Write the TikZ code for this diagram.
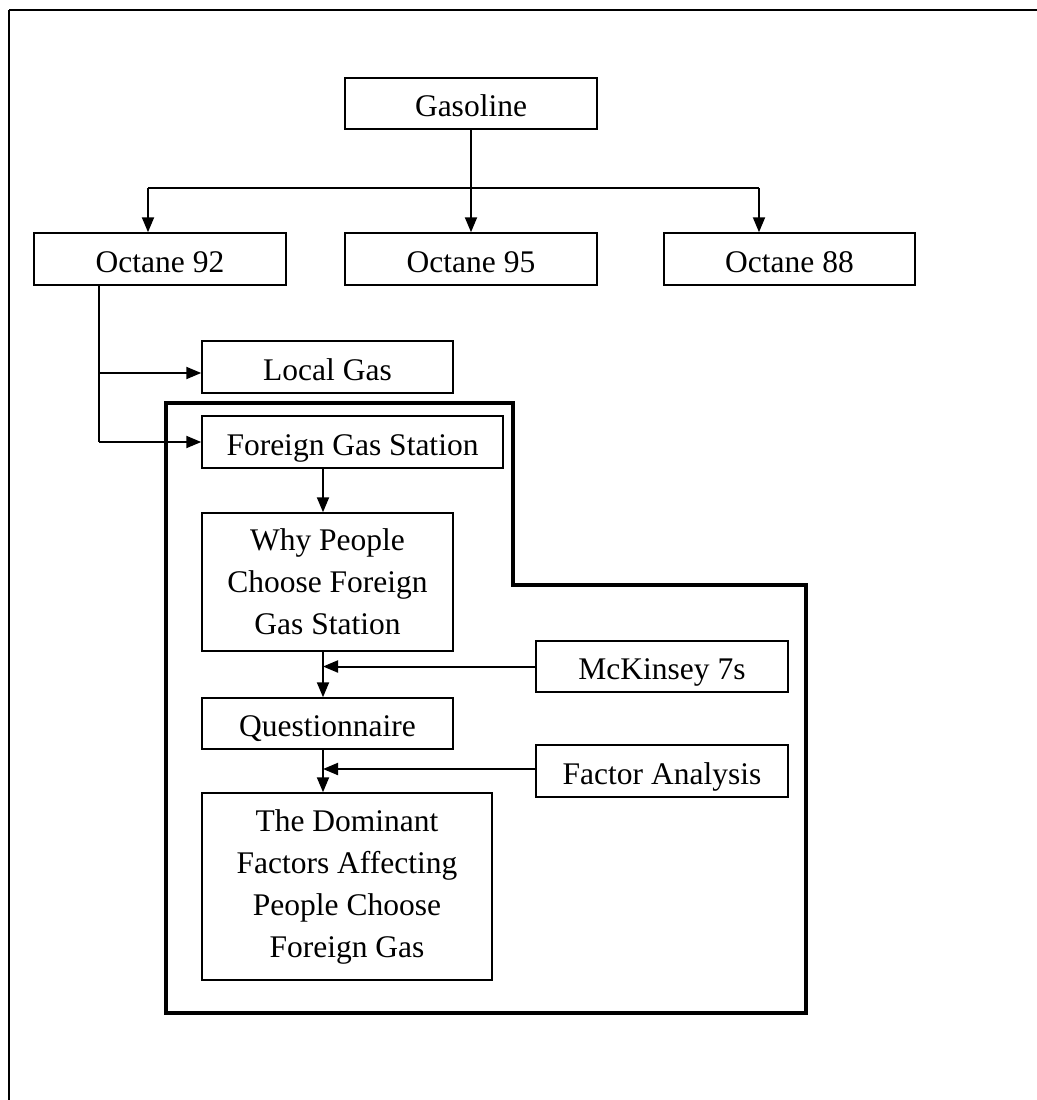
\documentclass[tikz,border=0pt]{standalone}
\usepackage{fontspec}
\setmainfont{Liberation Serif}
\usetikzlibrary{arrows.meta,calc}
\begin{document}
\begin{tikzpicture}[x=1pt,y=-1pt,
  boxbase/.style={draw,line width=1.5pt,rectangle,inner sep=0pt,align=center,
    font=\fontsize{31.5}{42}\selectfont},
  box/.style={boxbase,text height=26pt,text depth=0pt},
  mbox/.style={boxbase},
  arr/.style={line width=2pt,-{Triangle[length=15pt,width=12pt]}},
  ln/.style={line width=2pt}]
\useasboundingbox (0,0) rectangle (1036,1100);
% outer frame (top and left only)
\draw[line width=2.5pt] (9,10) -- (1040,10);
\draw[line width=1.5pt] (9,10) -- (9,1104);
% thick region frame
\draw[line width=4pt] (166,403) -- (513,403) -- (513,585) -- (806,585) -- (806,1013) -- (166,1013) -- cycle;
% nodes
\node[box,minimum width=252pt,minimum height=51pt] (gas) at (471,103.5) {Gasoline};
\node[box,minimum width=252pt,minimum height=52pt] (o92) at (160,259) {Octane 92};
\node[box,minimum width=252pt,minimum height=52pt] (o95) at (471,259) {Octane 95};
\node[box,minimum width=251pt,minimum height=52pt] (o88) at (789.5,259) {Octane 88};
\node[box,minimum width=251pt,minimum height=52pt] (local) at (327.5,367) {Local Gas};
\node[box,minimum width=301pt,minimum height=52pt] (fgs) at (352.5,442) {Foreign Gas Station};
\node[mbox,minimum width=251pt,minimum height=138pt] (why) at (327.5,582) {Why People\\Choose Foreign\\Gas Station};
\node[box,minimum width=252pt,minimum height=51pt] (mck) at (662,666.5) {McKinsey 7s};
\node[box,minimum width=251pt,minimum height=51pt] (q) at (327.5,723.5) {Questionnaire};
\node[box,minimum width=252pt,minimum height=52pt] (fa) at (662,771) {Factor Analysis};
\node[mbox,minimum width=290pt,minimum height=187pt] (dom) at (347,886.5) {The Dominant\\Factors Affecting\\People Choose\\Foreign Gas};
% helper coordinates
\coordinate (split) at (471,188);
\coordinate (col) at (323,0);
\coordinate (trunk) at (99,0);
% connectors from Gasoline
\draw[line width=1.2pt] (gas.south) -- (split);
\draw[ln] ([xshift=-323pt]split) -- ([xshift=288pt]split);
\draw[arr] (split) -- (o95.north);
\draw[arr] ([xshift=-323pt]split) -- ([xshift=-12pt]o92.north);
\draw[arr] ([xshift=288pt]split) -- ([xshift=-30.5pt]o88.north);
% from Octane 92
\draw[ln] (o92.south -| trunk) -- (fgs.west -| trunk);
\draw[arr] ([yshift=-6pt]local.west -| trunk) -- ([yshift=-6pt]local.west);
\draw[arr] (fgs.west -| trunk) -- (fgs.west);
% main column
\draw[arr] (fgs.south -| col) -- (why.north -| col);
\draw[arr] (why.south -| col) -- (q.north -| col);
\draw[arr] (q.south -| col) -- (dom.north -| col);
\draw[arr] (mck.west) -- (mck.west -| col);
\draw[arr] ([yshift=2pt]fa.west) -- ([yshift=2pt]fa.west -| col);
\end{tikzpicture}
\end{document}
